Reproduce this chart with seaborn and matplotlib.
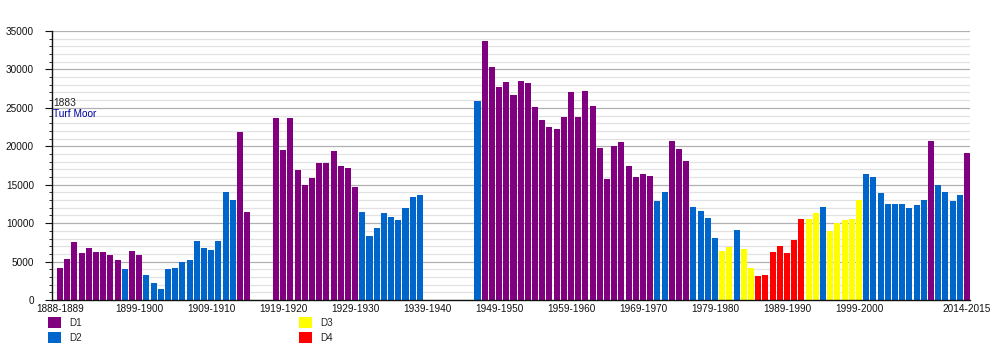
import matplotlib
matplotlib.use("Agg")
import matplotlib.pyplot as plt
from matplotlib.patches import Patch
from matplotlib.ticker import MultipleLocator
import pandas as pd
import seaborn as sns

# Every season on the axis, 1888-1889 to 2014-2015 (war years stay empty)
seasons = [f"{y}-{y + 1}" for y in range(1888, 2015)]

# Average league attendance, one spell per run of seasons in the same division
spells = [
    (1888, "D1", [4200, 5300, 7500, 6100, 6800, 6200, 6200, 5900, 5200]),
    (1897, "D2", [4000]),
    (1898, "D1", [6400, 5900]),
    (1900, "D2", [3300, 2200, 1400, 4000, 4200, 4900, 5200, 7700, 6800,
                  6500, 7700, 14000, 13000]),
    (1913, "D1", [21900, 11400]),
    (1918, "D1", [23700, 19500, 23700, 16900, 14900, 15900, 17800, 17800,
                  19400, 17400, 17200, 14700]),
    (1930, "D2", [11400, 8300, 9400, 11300, 10800, 10400, 12000, 13400, 13700]),
    (1946, "D2", [25900]),
    (1947, "D1", [33700, 30300, 27700, 28400, 26700, 28500, 28200, 25100,
                  23400, 22500, 22200, 23800, 27100, 23800, 27200, 25200,
                  19800, 15700, 20000, 20600, 17400, 16000, 16400, 16100]),
    (1971, "D2", [12900, 14000]),
    (1973, "D1", [20700, 19600, 18100]),
    (1976, "D2", [12100, 11600, 10700, 8100]),
    (1980, "D3", [6400, 6900]),
    (1982, "D2", [9100]),
    (1983, "D3", [6600, 4200]),
    (1985, "D4", [3100, 3300, 6200, 7000, 6100, 7800, 10500]),
    (1992, "D3", [10500, 11300]),
    (1994, "D2", [12100]),
    (1995, "D3", [9000, 10000, 10400, 10500, 13000]),
    (2000, "D2", [16400, 16000, 13900, 12500, 12500, 12500, 12000, 12400, 13000]),
    (2009, "D1", [20700]),
    (2010, "D2", [15000, 14100, 12900, 13700]),
    (2014, "D1", [19100]),
]

divisions = ["D1", "D2", "D3", "D4"]
division_colors = ["#800080", "#0066cc", "#ffff00", "#ff0000"]

tick_seasons = ["1888-1889", "1899-1900", "1909-1910", "1919-1920",
                "1929-1930", "1939-1940", "1949-1950", "1959-1960",
                "1969-1970", "1979-1980", "1989-1990", "1999-2000",
                "2014-2015"]

ground_year = "1883"
ground_name = "Turf Moor"

rows = []
for first_year, division, values in spells:
    for k, v in enumerate(values):
        y = first_year + k
        rows.append({"season": f"{y}-{y + 1}", "division": division,
                     "attendance": v})
df = pd.DataFrame(rows)

sns.set_style("white")
plt.rcParams["font.family"] = ["Liberation Sans", "DejaVu Sans"]

fig = plt.figure(figsize=(10, 3.5), dpi=100)
ax = fig.add_axes([0.052, 1 - 300 / 350, 0.918, 269 / 350])

sns.barplot(data=df, x="season", y="attendance", hue="division",
            order=seasons, hue_order=divisions,
            palette=dict(zip(divisions, division_colors)),
            dodge=False, width=0.84, saturation=1, legend=False,
            linewidth=0, ax=ax)

ax.set_xlim(-1.11, len(seasons) - 1 + 0.42)
ax.set_ylim(0, 35000)
ax.yaxis.set_major_locator(MultipleLocator(5000))
ax.yaxis.set_minor_locator(MultipleLocator(1000))
ax.grid(which="major", axis="y", color="#b0b0b0", linewidth=0.9)
ax.grid(which="minor", axis="y", color="#e2e2e2", linewidth=0.9)
ax.grid(axis="x", visible=False)
ax.set_axisbelow(True)

ax.set_xticks([seasons.index(s) for s in tick_seasons])
ax.set_xticklabels(tick_seasons)
ax.tick_params(axis="x", length=0, pad=3, labelsize=7.2, colors="#111111")
ax.tick_params(axis="y", which="major", length=5, width=0.8, pad=8,
               labelsize=7.2, colors="#111111", left=True)
ax.tick_params(axis="y", which="minor", length=2.5, width=0.6, left=True,
               color="#111111")
ax.set_xlabel("")
ax.set_ylabel("")

for side in ("top", "right"):
    ax.spines[side].set_visible(False)
for side in ("left", "bottom"):
    ax.spines[side].set_color("#111111")
    ax.spines[side].set_linewidth(1.0)

ax.text(0.001, 25000, ground_year, transform=ax.get_yaxis_transform(),
        fontsize=7.3, color="#222222", ha="left", va="bottom")
ax.text(0.001, 23500, ground_name, transform=ax.get_yaxis_transform(),
        fontsize=7.3, color="#0000a0", ha="left", va="bottom")

handles = [Patch(facecolor=c, edgecolor="none", label=d)
           for d, c in zip(divisions, division_colors)]
fig.legend(handles=handles, ncol=2, loc="upper left",
           bbox_to_anchor=(0.048, 1 - 317 / 350), frameon=False,
           fontsize=7.1, handlelength=1.3, handleheight=1.3,
           handletextpad=0.9, labelspacing=0.42, columnspacing=21.95,
           borderaxespad=0, borderpad=0)

fig.savefig("out.png", dpi=100, facecolor="white")
